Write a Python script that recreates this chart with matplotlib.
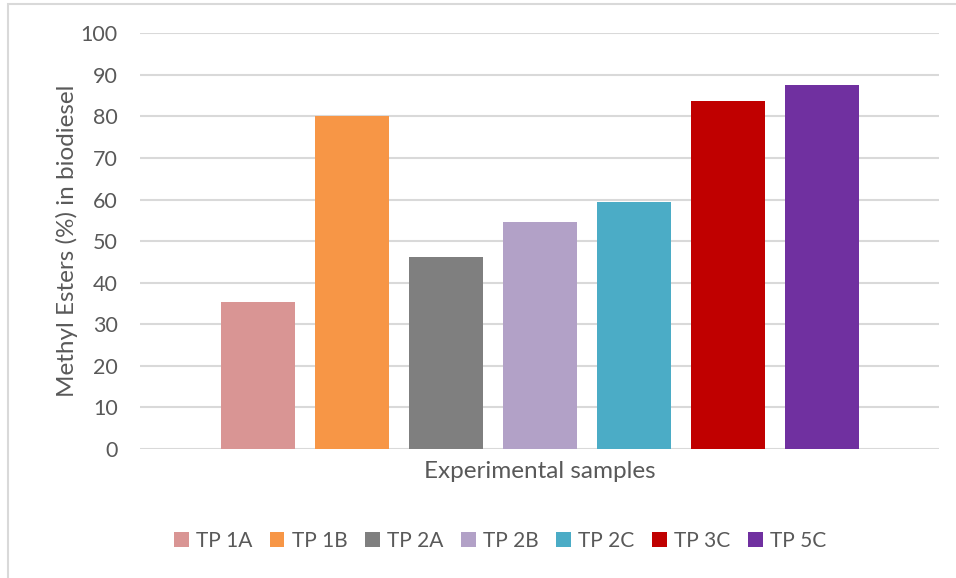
import numpy as np
import matplotlib.pyplot as plt
from matplotlib.patches import Rectangle

samples = ["TP 1A", "TP 1B", "TP 2A", "TP 2B", "TP 2C", "TP 3C", "TP 5C"]
esters = [35.4, 80.1, 46.2, 54.6, 59.4, 83.7, 87.6]
colors = ["#D99594", "#F79646", "#7F7F7F", "#B2A1C7", "#4BACC6", "#C00000", "#7030A0"]
yticks = [0, 10, 20, 30, 40, 50, 60, 70, 80, 90, 100]

plt.rcParams['font.family'] = ['Lato', 'DejaVu Sans']
txt = "#595959"

fig = plt.figure(figsize=(9.56, 5.78), dpi=100)
# outer chart frame (light grey, like the Excel chart area)
fig.patches.append(Rectangle((8/956, -0.05), 1.0, 1 - 4/578 + 0.05, transform=fig.transFigure,
                             fill=False, edgecolor="#D9D9D9", linewidth=1.5))

ax = fig.add_axes([140/956, 1 - 449/578, 798.7/956, (449 - 33.3)/578])
x = np.arange(len(samples))
for i in range(len(samples)):
    ax.bar(x[i], esters[i], width=0.787, color=colors[i], label=samples[i], zorder=3)

ax.set_xlim(-1.255, 7.242)
ax.set_ylim(0, 100)
ax.set_yticks(yticks)
ax.set_xticks([])
ax.grid(axis='y', color="#D9D9D9", linewidth=1.5, zorder=0)
for s in ax.spines.values():
    s.set_visible(False)
ax.tick_params(axis='y', length=0, pad=16, labelsize=15.5, labelcolor=txt)
ax.set_ylabel("Methyl Esters (%) in biodiesel", fontsize=17.5, color=txt, labelpad=2)
ax.set_xlabel("Experimental samples", fontsize=17.5, color=txt, labelpad=9)

fig.legend(loc='center', bbox_to_anchor=(500/956, 1 - 541/578), ncol=7, frameon=False,
           fontsize=15, labelcolor=txt, handlelength=0.7, handleheight=0.7,
           handletextpad=0.35, columnspacing=0.85)

fig.savefig("out.png", dpi=100)
